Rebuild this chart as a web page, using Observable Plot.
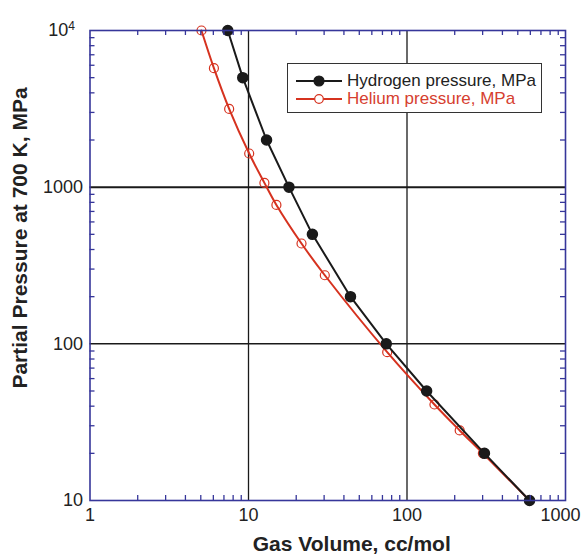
<!DOCTYPE html>
<html>
<head>
<meta charset="utf-8">
<script src="https://cdn.jsdelivr.net/npm/d3@7"></script>
<script src="https://cdn.jsdelivr.net/npm/@observablehq/plot@0.6"></script>
<style>
  html, body { margin: 0; padding: 0; background: #fff; }
  #wrap { position: relative; width: 583px; height: 554px; font-family: "Liberation Sans", Arial, Helvetica, sans-serif; }
  #legend { position: absolute; left: 287px; top: 63px; width: 255px; height: 50px; box-sizing: border-box;
            border: 1.5px solid #333; background: #fff; }
  .row { position: absolute; left: 0; height: 18px; display: flex; align-items: center; font-size: 17px; white-space: nowrap; }
  .row svg { margin-left: 8px; margin-right: 5px; }
</style>
</head>
<body>
<div id="wrap"></div>
<script>
// ---- data ----
const hydrogenVolume   = [7.4, 9.2, 13, 18, 25.3, 44, 74, 133, 308, 593];
const hydrogenPressure = [10000, 5000, 2000, 1000, 500, 200, 100, 50, 20, 10];
const heliumVolume     = [5.05, 6.05, 7.55, 10.1, 12.6, 15, 21.6, 30.3, 75, 149, 215, 301, 593];
const heliumPressure   = [10000, 5750, 3160, 1640, 1065, 770, 437, 274, 88.5, 41, 28, 20, 10];
const seriesNames = ["Hydrogen pressure, MPa", "Helium pressure, MPa"];
const xTicks = [1, 10, 100, 1000];
const yTicks = [10, 100, 1000, 10000];
const xTitle = "Gas Volume, cc/mol";
const yTitle = "Partial Pressure at 700 K, MPa";

const BLACK = "#1a1a1a", RED = "#d6321f", BLUE = "#36369a";
const FONT = "\"Liberation Sans\", Arial, Helvetica, sans-serif";

const hydrogen = hydrogenVolume.map((v, i) => ({v, p: hydrogenPressure[i]}));
const helium = heliumVolume.map((v, i) => ({v, p: heliumPressure[i]}));

const minor = (decades) => decades.flatMap(d => [2,3,4,5,6,7,8,9].map(k => k * d));
const minorX = minor([1, 10, 100]);
const minorY = minor([10, 100, 1000]);

const W = 583, H = 554, ML = 89.5, MR = 18, MT = 30, MB = 54;
const PW = W - ML - MR, PH = H - MT - MB;

const chart = Plot.plot({
  width: W, height: H,
  marginLeft: ML, marginRight: MR, marginTop: MT, marginBottom: MB,
  style: {fontFamily: FONT, fontSize: "18px", background: "#fff", color: "#222", overflow: "visible"},
  x: {type: "log", domain: [1, 1000]},
  y: {type: "log", domain: [10, 10000]},
  marks: [
    // decade grid lines
    Plot.ruleX([10, 100], {stroke: BLACK, strokeWidth: 1.3}),
    Plot.ruleY([1000], {stroke: BLACK, strokeWidth: 2}),
    Plot.ruleY([100], {stroke: BLACK, strokeWidth: 1.5}),
    // helium
    Plot.line(helium, {x: "v", y: "p", stroke: RED, strokeWidth: 2, curve: "catmull-rom"}),
    Plot.dot(helium, {x: "v", y: "p", r: 4.5, stroke: RED, strokeWidth: 1.2, fill: "none"}),
    // hydrogen
    Plot.line(hydrogen, {x: "v", y: "p", stroke: BLACK, strokeWidth: 2}),
    Plot.dot(hydrogen, {x: "v", y: "p", r: 5, fill: BLACK, stroke: BLACK}),
    // frame and inward minor ticks
    Plot.frame({stroke: BLUE, strokeWidth: 1.6}),
    Plot.tickX(minorX, {x: d => d, insetTop: PH - 5, stroke: BLUE, strokeWidth: 1.3}),
    Plot.tickX(minorX, {x: d => d, insetBottom: PH - 5, stroke: BLUE, strokeWidth: 1.3}),
    Plot.tickY(minorY, {y: d => d, insetRight: PW - 5, stroke: BLUE, strokeWidth: 1.3}),
    Plot.tickY(minorY, {y: d => d, insetLeft: PW - 5, stroke: BLUE, strokeWidth: 1.3}),
    // axes
    Plot.axisX(xTicks, {anchor: "bottom", tickSize: 0, tickPadding: 8, tickFormat: d => String(d), label: null, fontSize: 18, fill: "#222"}),
    Plot.axisY(yTicks, {anchor: "left", tickSize: 0, tickPadding: 7, tickFormat: d => String(d), label: null, fontSize: 18, fill: "#222"}),
    // axis titles
    Plot.text([xTitle], {text: d => d, frameAnchor: "bottom", textAnchor: "middle", dx: 24, dy: 44, lineAnchor: "middle", fontSize: 21, fontWeight: "bold", fill: "#222"}),
    Plot.text([yTitle], {text: d => d, frameAnchor: "left", textAnchor: "middle", rotate: -90, dx: -70, dy: -27.5, lineAnchor: "middle", fontSize: 21, fontWeight: "bold", fill: "#222"})
  ]
});

// superscript for 10^4 and nudge of the last x label
d3.select(chart).selectAll("text").each(function () {
  const t = d3.select(this);
  const tr = t.attr("transform") || "";
  if (this.textContent === "10000") {
    t.text("");
    t.append("tspan").text("10");
    t.append("tspan").attr("dy", "-0.55em").attr("font-size", "12px").text("4");
    t.attr("transform", tr + " translate(-8,0)");
  } else if (this.textContent === "1000" && (this.parentNode.getAttribute("aria-label") || "").startsWith("x-axis")) {
    t.attr("transform", tr + " translate(-5,0)");
  }
});

const wrap = document.getElementById("wrap");
wrap.appendChild(chart);

// legend
const legend = document.createElement("div");
legend.id = "legend";
const rows = [
  {name: seriesNames[0], color: BLACK, text: "#222", filled: true, top: 8},
  {name: seriesNames[1], color: RED, text: "#d6402f", filled: false, top: 26}
];
rows.forEach(r => {
  const row = document.createElement("div");
  row.className = "row";
  row.style.top = r.top + "px";
  row.innerHTML = `<svg width="46" height="14" viewBox="0 0 46 14">
      <line x1="0" y1="7" x2="46" y2="7" stroke="${r.color}" stroke-width="2"/>
      <circle cx="23" cy="7" r="${r.filled ? 5 : 4.3}" fill="${r.filled ? r.color : "#fff"}" stroke="${r.color}" stroke-width="1.2"/>
    </svg><span style="color:${r.text}">${r.name}</span>`;
  legend.appendChild(row);
});
wrap.appendChild(legend);
</script>
</body>
</html>
